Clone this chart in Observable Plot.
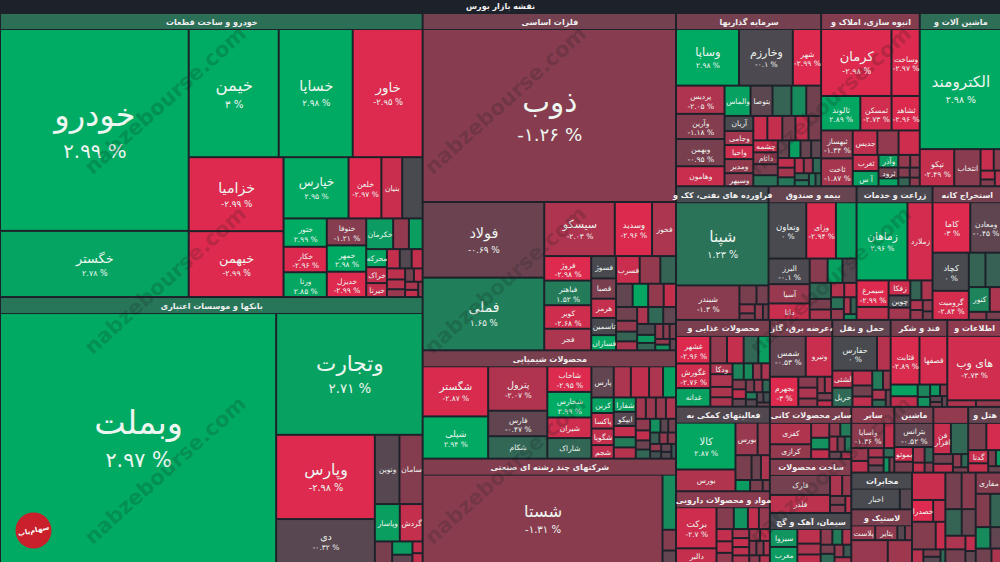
<!DOCTYPE html>
<html><head><meta charset="utf-8">
<script src="https://cdn.jsdelivr.net/npm/d3@7"></script>
<script src="https://cdn.jsdelivr.net/npm/@observablehq/plot@0.6"></script>
<style>html,body{margin:0;padding:0;background:#1d222a;overflow:hidden}svg{display:block}</style>
</head><body><div id="chart"></div>
<script>
// Grouping helpers: side by side, stacked, or free tiling
const cols=(...children)=>({split:"cols",children});
const rows=(...children)=>({split:"rows",children});
const tiles=(...children)=>({children});
// [symbol, % change, traded weight]
const autoStocks=[["خودرو",2.99,37800],["خگستر",2.78,12200],["خیمن",3,11260],["خساپا",2.98,9216],["خاور",-2.95,8700],["خزامیا",-2.99,6770],["خبهمن",-2.99,6016],["خپارس",2.95,3780],["خلعن",-2.97,1860],["بنیان",-2.6,1150],["",0,1130],["ختور",2.99,1107],["خکار",-2.96,984],["ورنا",2.85,960],["خنوفا",-1.21,950],["خمهر",2.98,925],["خدیزل",-2.99,888],["خکرمان",2.5,725],["",-1.5,406],["",2.6,348],["محرکه",2.8,304],["خراک",-2.5,266],["خیرنا",-2.5,228],["",-2.5,192],["",-0.2,176],["",-2.5,160],["",-2.3,150],["",-2.2,130],["",-1.6,100],["",-0.8,80],["",-2.4,78],["",-2,70],["",-2.5,60],["",-1.5,40]];
const bankStocks=[["وبملت",2.97,67950],["وتجارت",2.71,17300],["وپارس",-2.98,7950],["دی",-0.32,4074],["ونوین",-0.3,1541],["سامان",-1.2,1450],["وپاسار",2.6,814],["گردش",-2.5,740],["",-1,300],["",2.5,208],["",-0.5,120],["",-2.5,80],["",-2.5,64]];
const metalStocks=[["ذوب",-1.26,42580],["فولاد",-0.69,8730],["فملی",1.65,8380],["سیسکو",-2.03,3536],["وسدید",-2.96,1820],["فخوز",-2,1144],["فروژ",-2.98,1012],["فباهنر",1.52,1012],["کویر",-2.68,968],["فجر",-2,880],
  cols(rows(["فسوژ",0,460],["قصبا",-1,414],["هرمز",-2.5,391],["تاسمین",0,345],["فسازان",2.8,300]),
    tiles(["فسرب",-2.6,550],["",-1.5,475],["",0.8,350],["",-0.5,308],["",2.8,286],["",-1.5,286],["",-2.5,220],["",-0.8,224],["",-1.5,170],["",0.8,150],["",-2,136],["",-2,136],["",1,192],["",-0.5,160],["",0,144],["",2.5,100],["",0.9,90],["",-1.5,80],["",-1.3,60],["",-1,60],["",-1.5,50],["",2.2,50],["",-0.5,40]))];
const chemStocks=[["شگستر",-2.87,3087],["شپلی",2.94,2583],["پترول",-2.07,2451],["فارس",-0.47,1368],["شکام",0.9,1197],["شاخاب",-2.95,1008],["شخارس",2.99,1008],["شیران",-2.7,798],["شاراک",0.9,798],["پارس",-0.5,600],["",-2,450],["",-2.4,480],["",-2,360],["",2.7,330],["کربن",2.7,280],["پاکسا",-2.5,280],["شگویا",-2.5,300],["شجم",-2.4,240],["شفارا",2.6,252],["ایپکو",-0.3,247],["",-2.5,190],["",1.5,171],["",-2.2,190],["",-1.8,162],["",-1.6,162],["",-1.5,162],["",-2,162],["",-1.4,120],["",-2.5,100],["",-0.7,90],["",0.9,90],["",2.2,100],["",-0.4,70],["",-0.8,70],["",0.6,70],["",-1.5,60],["",-1.3,60],["",-1.5,50],["",0.2,50],["",-0.5,50],["",-0.2,40],["",0.4,40]];
const multiStocks=[["شستا",-1.31,20532],["",2,636],["",-1.2,216],["",-0.5,120]];
const investStocks=[rows(cols(["وساپا",2.98,3180],["وخارزم",-0.1,2703],["شهر",-2.99,1378]),
  cols(rows(["پردیس",-2.05,1170],["وآرین",-1.18,1035],["وبهمن",-0.95,1125],["وهامون",-2.6,810]),
  rows(cols(["والماس",2.7,648],["بتوصا",-0.4,540],["",0.8,459],["",2,351],["",-0.8,351]),
    cols(rows(["آریان",0,336],["وجامی",-1.8,312],["واحیا",-2.7,312],["ومدیر",-1.5,312],["وسپهر",-1.3,288]),
      rows(cols(["",-2.6,260],["",-2.5,280],["",-1,240],["",-2.5,240],["",-1,230]),
        cols(rows(["چشمه",-2.6,216],["داتام",-1.5,216],["",-1,198],["",1.2,198]),
          tiles(["",-0.6,140],["",2.6,140],["",-0.6,130],["",-0.4,120],["",-2.4,110],["",-1.8,110],["",1.4,100],["",-2.2,90],["",-1.6,90],["",1,80],["",0.8,60],["",1.4,50],["",1.5,50],["",0.7,40])))))))];
const massStocks=[rows(cols(["کرمان",-2.98,4220],["وساخت",-2.97,1638]),
  cols(["ثالوند",2.89,1147],["ثمسکن",-2.73,900],["ثشاهد",-2.96,806]),
  cols(rows(["ثبهساز",-1.34,728],["ثاخت",-1.87,728]),
    rows(cols(["جدیس",-2.4,480],["",-1.5,408],["",-2.7,408]),
      cols(rows(["ثغرب",-2.5,320],["آ س",2.7,300]),rows(["وآذر",2.6,180],["ثرود",-0.8,150],["",2.7,105]),
        tiles(["",-1.5,100],["",-1.5,77],["",-1.2,70],["",0.8,60],["",-1,60],["",-1.4,50])))))];
const machineStocks=[["الکترومند",2.98,9204],["تپکو",-2.49,1120],["انتخاب",-1.3,840],["",-2.6,216],["",-1.3,108],["",-2.4,84],["",-1.2,60],["",-2.2,60]];
const refineStocks=[["شپنا",1.23,6942],["شبندر",-1.3,1891],["",-1,240],["",-0.9,160],["",-1.6,90],["",-1,60],["",-1.4,80],["",-0.8,50]];
const insureStocks=[["وتعاون",0,1836],["وزای",-2.94,1428],["",2.7,970],["البرز",-0.1,875],["آسیا",-1.6,646],["دانا",-2.6,544],["",-1.3,336],["",2.7,273],["",-0.2,256],["",1,256],["",-1,160],["",-2,156],["",-2.2,130],["",-2.5,120],["",1.2,100],["",-1.5,90],["",-2,70],["",0.7,60],["",2,40]];
const agriStocks=[["زماهان",2.96,3648],["زملارد",-2.8,1748],["سیمرغ",-2.99,720],["",-2.3,330],["زفکا",-2.7,252],["چوین",0,200],["",-1.8,200],["",0.8,160],["",-2,160],["",-2,80],["",-1.6,80],["",-1.4,70],["",-1,50]];
const mineStocks=[["کاما",-3,1764],["ومعادن",-0.45,1421],["کچاد",0,1260],["گرومیت",-2.84,945],["",0.8,490],["",0.7,455],["کنور",1.8,440],["",-2,220],["",-1.4,100],["",-1,80]];
const foodStocks=[["غشهر",-2.96,858],["غگورش",-2.76,759],["غدانه",2.7,561],["",-1.5,390],["",-2.5,390],["",0.9,338],["",2.6,260],["ودکا",-2,190],["",-2,228],["",-2,180],["",-2,160],["",1.8,140],["",2,110],["",-1.5,100],["",-2,100],["",-1.2,90],["",-2.4,90],["",-0.5,70],["",-1,70],["",-1.5,70],["",0.9,60],["",1.5,50],["",-0.3,50],["",-0.4,40],["",0.2,40],["",-0.6,30]];
const powerStocks=[["شمس",-0.53,1287],["ونیرو",-2.6,936],["بجهرم",-3,728],["",-1.3,150],["",-2,150],["",-1.5,110],["",-1.5,80],["",-2,80],["",-1,70],["",-2.4,60]];
const transportStocks=[["حفارس",0,1376],["",-2.2,384],["لشتی",-2.3,270],["حریل",1,306],["",-2.4,225],["",-0.8,160],["",-2.4,150],["",1.5,150],["",-1.5,100],["",-2,90],["",1,60],["",-0.7,50]];
const sugarStocks=[["قثابت",-2.89,1215],["قصفها",-2.8,1170],["",2.7,240],["",-2.4,216],["",1.8,104],["",2.2,80],["",2.4,72],["",-1.4,48],["",-0.4,40],["",-1,30],["",-0.5,30]];
const itStocks=[["های وب",-2.73,3172],["",-2,135],["",-1.5,115]];
const supportStocks=[["کالا",2.87,2632],["بورس",-2.1,1176],["بورس",-1.6,630],["",-1.5,330],["",-1,330],["",-0.7,180],["",-2,170],["",2.5,120],["",-1,100],["",-1,50]];
const pharmaStocks=[["برکت",-2.7,1560],["دالبر",-2.5,520],["",-1.2,315],["",2.3,252],["",-2.4,189],["",-1.5,189],["",-2.5,150],["",-2.4,140],["",-1.5,120],["",-2,110],["",-2.5,110],["",-2.3,100],["",-2,90],["",-1.7,90],["",-2.5,80],["",-1.3,70],["",-1.2,70],["",-2,60],["",-1.4,50],["",-2.2,50]];
const glassStocks=[["کفزی",-2.1,735],["کرازی",-1.5,490],["",-2,200],["",2.2,150],["",-2.4,120],["",-1.4,100],["",1.5,100],["",-2,80],["",-1,70],["",1.4,60],["",-0.6,50],["",-2,40]];
const buildStocks=[cols(rows(["فارک",-0.9,1140],["فلذر",-2.3,1020]),tiles(["",-2,210],["",-1.5,150],["",-1,100],["",-1.3,90],["",-2.2,70]))];
const cementStocks=[["سیزوا",2.3,340],["مغرب",2.5,300],["",-2.3,225],["",-2,160],["",-2.4,120],["",-1.4,110],["",1.5,90],["",-2,80],["",-1,70],["",1,70],["",-1.5,60],["",0.5,50],["",-2,50]];
const otherStocks=[["واسایا",-1.36,783],["",-2.5,216],["",-1.6,180],["",-2.3,160],["",-2,110],["",-1.5,90],["",-0.5,80],["",1,70],["",2.3,60],["",-1,50]];
const machine2Stocks=[rows(["بترانس",-0.52,1036],tiles(["بموتو",-2.7,270],["",-1,190],["",-1.8,170],["",0.7,120],["",-2.4,100],["",-1.2,70]))];
const softwareStocks=[cols(["فن\nافزار",-2.6,551],["",0.9,540]),["",-0.9,170],["",-2.4,150],["",-1.4,90],["",1,70],["",-1,60]];
const hotelStocks=[cols(["",-1,480],["",-2.8,380]),["گدنا",-2.6,240],["",-2.5,160],["",-1,100],["",2.5,60],["",-0.6,60]];
const telecomStocks=[["اخبار",0,960],["",-0.3,210]];
const rubberStocks=[["پلاست",-1.5,370],["پتایر",-1.4,340],["",-0.3,100],["",-1.2,90]];
const wideAStocks=[["",-1.6,780],["",-1.7,500]];
const wideBStocks=[["",-2.6,1000],["خصدرا",-2.97,480],["",-2.4,260],["",-1.2,700],["",-2.6,260],["",-2.2,140],["",-1,110],["",-0.3,90],["",1,50]];
const wideCStocks=[["",-0.9,700],["",-1.3,600],["",0.8,500],["",-0.6,420],["",-2,300],["",-0.9,300],["",-2.4,160],["",-0.5,120]];
const wideDStocks=[["مفاری",-1.2,470],["",-1.2,420],["",0.8,300],["",2,260],["",-0.5,180],["",-0.8,180],["",-2,100]];

// Weights were read net of the gaps between tiles; the layout spends them gross of the gaps.
const gross=a=>a+4*Math.sqrt(a)+4;
const weigh=item=>Array.isArray(item)?gross(item[2]):d3.sum(item.children,weigh);
const build=(item,k)=>Array.isArray(item)
  ?{name:item[0],change:item[1],value:gross(item[2])*k}
  :{split:item.split,children:item.children.map(c=>build(c,k))};
// sector title (null = no title strip), mean change, total weight, stocks
const sector=(name,change,total,stocks)=>{
  const k=total/d3.sum(stocks,weigh);
  return {name,change,isSector:true,children:stocks.map(s=>build(s,k))};
};
const tree=cols(
  rows(sector("خودرو و ساخت قطعات",1.15,119400,autoStocks),sector("بانکها و موسسات اعتباری",1.35,111800,bankStocks)),
  rows(sector("فلزات اساسی",-0.85,85000,metalStocks),sector("محصولات شیمیایی",-0.95,27300,chemStocks),sector("شرکتهای چند رشته ای صنعتی",-1.15,26300,multiStocks)),
  rows(
    cols(sector("سرمایه گذاریها",-0.9,25000,investStocks),sector("انبوه سازی، املاک و",-1.2,17000,massStocks),sector("ماشین آلات و",1.1,14000,machineStocks)),
    cols(sector("فراورده های نفتی، کک و",0.1,12300,refineStocks),sector("بیمه و صندوق",-0.6,11700,insureStocks),sector("زراعت و خدمات",-0.1,10100,agriStocks),sector("استخراج کانه",-0.9,9100,mineStocks)),
    cols(
      rows(sector("محصولات غذایی و",-1,8100,foodStocks),sector("فعالیتهای کمکی به",-0.2,7900,supportStocks),sector("مواد و محصولات دارویی",-1.3,6700,pharmaStocks)),
      rows(
        cols(sector("عرضه برق، گاز،",-1,5400,powerStocks),sector("حمل و نقل",-0.5,5050,transportStocks),sector("قند و شکر",-1,4900,sugarStocks),sector("اطلاعات و",-1.4,4650,itStocks)),
        cols(
          rows(sector("سایر محصولات کانی",-1,4212,glassStocks),sector("ساخت محصولات",-1.2,4374,buildStocks),sector("سیمان، آهک و گچ",-0.05,4050,cementStocks)),
          rows(
            cols(sector("سایر",-1.4,2814,otherStocks),sector("ماشین",-0.9,2546,machine2Stocks),sector("",-1.5,2278,softwareStocks),sector("هتل و",-0.6,2144,hotelStocks)),
            cols(
              rows(sector("مخابرات",0,2220,telecomStocks),sector("لاستیک و",-1,1860,rubberStocks),sector(null,-1.6,1380,wideAStocks)),
              sector(null,-2,3003,wideBStocks),sector(null,-1,2730,wideCStocks),sector(null,-1,2275,wideDStocks)
            )
          )
        )
      )
    )
  )
);
const chartTitle="نقشه بازار بورس";
const watermarkX=[165,505,830];
const watermarkY=[100,280,470];
const logoPoint=[{x:33,y:530}];

const tile=(node,x0,y0,x1,y1)=>{
  const f=node.data.split==="cols"?d3.treemapDice:node.data.split==="rows"?d3.treemapSlice:d3.treemapSquarify;
  f(node,x0,y0,x1,y1);
};
const root=d3.treemap().size([1000,562]).tile(tile).round(false)
  .paddingInner(2).paddingLeft(d=>d.depth===0?1:0)
  .paddingTop(d=>d.depth===0?14:(d.data.isSector&&d.data.name!==null?16:0))(
    d3.hierarchy(tree).sum(d=>d.value||0));
const sectorCells=root.descendants().filter(d=>d.data.isSector&&d.data.name!==null);
const leafCells=root.leaves();

const fa=n=>String(n).replace(/\d/g,d=>"۰۱۲۳۴۵۶۷۸۹"[d]);
const pctText=d=>(d.data.change<0?"-":"")+fa(Math.abs(d.data.change))+" %";
const W=d=>d.x1-d.x0, H=d=>d.y1-d.y0;
const nameSize=d=>Math.max(7.5,Math.min(33.5,3+Math.min(W(d),H(d))*0.155));
const pctSize=d=>Math.max(7.5,nameSize(d)*0.62);
const labelled=leafCells.filter(d=>d.data.name);
const hasPct=d=>W(d)>=26&&H(d)>=21.5;
const watermarks=watermarkX.flatMap(x=>watermarkY.map(y=>({x,y})));

const font="'DejaVu Sans'";
document.getElementById("chart").append(Plot.plot({
  width:1000,height:562,margin:0,
  style:{background:"#1d222a",fontFamily:font},
  x:{domain:[0,1000],range:[0,1000],axis:null},
  y:{domain:[0,562],range:[0,562],axis:null},
  color:{type:"linear",domain:[-3,0,3],range:["#de2a4e","#484a50","#00ab63"],clamp:true},
  marks:[
    Plot.rect(sectorCells,{x1:"x0",x2:"x1",y1:"y0",y2:d=>d.y0+15,fill:d=>d.data.change}),
    Plot.rect(leafCells,{x1:"x0",x2:"x1",y1:"y0",y2:"y1",fill:d=>d.data.change}),
    Plot.text(sectorCells,{x:d=>(d.x0+d.x1)/2,y:d=>d.y0+7.5,text:d=>d.data.name,fill:"#f0f0f0",fontSize:8,fontWeight:600}),
    Plot.text(labelled,{x:d=>(d.x0+d.x1)/2,y:d=>(d.y0+d.y1)/2-(hasPct(d)?nameSize(d)*0.47:0),text:d=>d.data.name,fill:"#eef6f1",fontSize:nameSize,fontWeight:d=>nameSize(d)<12?600:400}),
    Plot.text(labelled.filter(hasPct),{x:d=>(d.x0+d.x1)/2,y:d=>(d.y0+d.y1)/2+Math.max(6,nameSize(d)*0.66),text:pctText,fill:"#eef6f1",fontSize:pctSize,fontWeight:d=>pctSize(d)<12?600:400}),
    Plot.text(watermarks,{x:"x",y:"y",text:()=>"nabzebourse.com",rotate:-42,fill:"#141c1c",fillOpacity:0.2,fontSize:21,fontWeight:700}),
    Plot.text([chartTitle],{x:()=>500,y:()=>6,text:d=>d,fill:"#f2f2f2",fontSize:8,fontWeight:700}),
    Plot.dot(logoPoint,{x:"x",y:"y",r:18,fill:"#c9202b"}),
    Plot.text(logoPoint,{x:"x",y:"y",text:()=>"سهام‌یاب",fill:"#fff",fontSize:7,fontWeight:600,rotate:-12})
  ]
}));
</script></body></html>
